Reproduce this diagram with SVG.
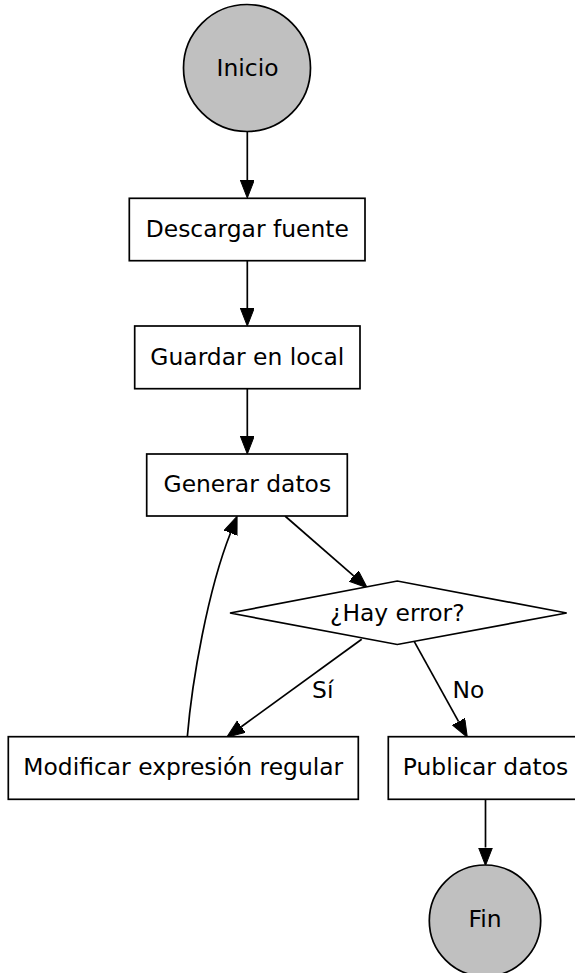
<svg xmlns="http://www.w3.org/2000/svg" width="575" height="973" viewBox="0 0 575 973">
<style>
  .n { fill: #ffffff; stroke: #000000; stroke-width: 1.7; }
  .c { fill: #c0c0c0; stroke: #000000; stroke-width: 1.7; }
  .t { font-family: "DejaVu Sans", Verdana, sans-serif; font-size: 23.4px; fill: #000000; text-anchor: middle; }
  .e { fill: none; stroke: #000000; stroke-width: 1.7; marker-end: url(#ah); }
</style>
<defs>
  <marker id="ah" markerUnits="userSpaceOnUse" markerWidth="20" markerHeight="16" refX="0" refY="7" orient="auto" viewBox="0 0 20 16">
    <path d="M0,0 L18,7 L0,14 z" fill="#000000" stroke="#000000" stroke-width="1"/>
  </marker>
</defs>
<rect x="0" y="0" width="575" height="973" fill="#ffffff"/>
<g id="edges">
  <path class="e" d="M247.3,131.5 L247.3,180"/>
  <path class="e" d="M247.3,261 L247.3,308"/>
  <path class="e" d="M247.3,389 L247.3,436"/>
  <path class="e" d="M285,516 L353.7,575.9"/>
  <path class="e" d="M361.7,639.3 L241.3,726.7"/>
  <path class="e" d="M414.3,641.7 L458.6,721.6"/>
  <path class="e" d="M485.5,799.3 L485.5,847.5"/>
  <path class="e" d="M187.3,737 C192,680 208,590 230.5,533"/>
  <text class="t" x="322.8" y="697.7">Sí</text>
  <text class="t" x="468.4" y="697.7">No</text>
</g>
<g id="inicio">
  <circle class="c" cx="247" cy="68" r="63.5"/>
  <text class="t" x="247.5" y="76">Inicio</text>
</g>
<g id="descargar">
  <rect class="n" x="129.3" y="198.3" width="235.7" height="62.4"/>
  <text class="t" x="247.3" y="236.7">Descargar fuente</text>
</g>
<g id="guardar">
  <rect class="n" x="134.7" y="326" width="225.3" height="62.7"/>
  <text class="t" x="247.3" y="365">Guardar en local</text>
</g>
<g id="generar">
  <rect class="n" x="146.7" y="454" width="200.6" height="62"/>
  <text class="t" x="247.3" y="491.7">Generar datos</text>
</g>
<g id="decision">
  <polygon class="n" points="230,613 397.3,581 566.7,613 397.3,644.5"/>
  <text class="t" x="397.3" y="620.7">¿Hay error?</text>
</g>
<g id="modificar">
  <rect class="n" x="8.3" y="736.7" width="350" height="62.6"/>
  <text class="t" x="183.3" y="775">Modificar expresión regular</text>
</g>
<g id="publicar">
  <rect class="n" x="388.3" y="736.7" width="195" height="62.6"/>
  <text class="t" x="485.5" y="775">Publicar datos</text>
</g>
<g id="fin">
  <circle class="c" cx="485" cy="920.7" r="55.7"/>
  <text class="t" x="485" y="927.3">Fin</text>
</g>
</svg>
